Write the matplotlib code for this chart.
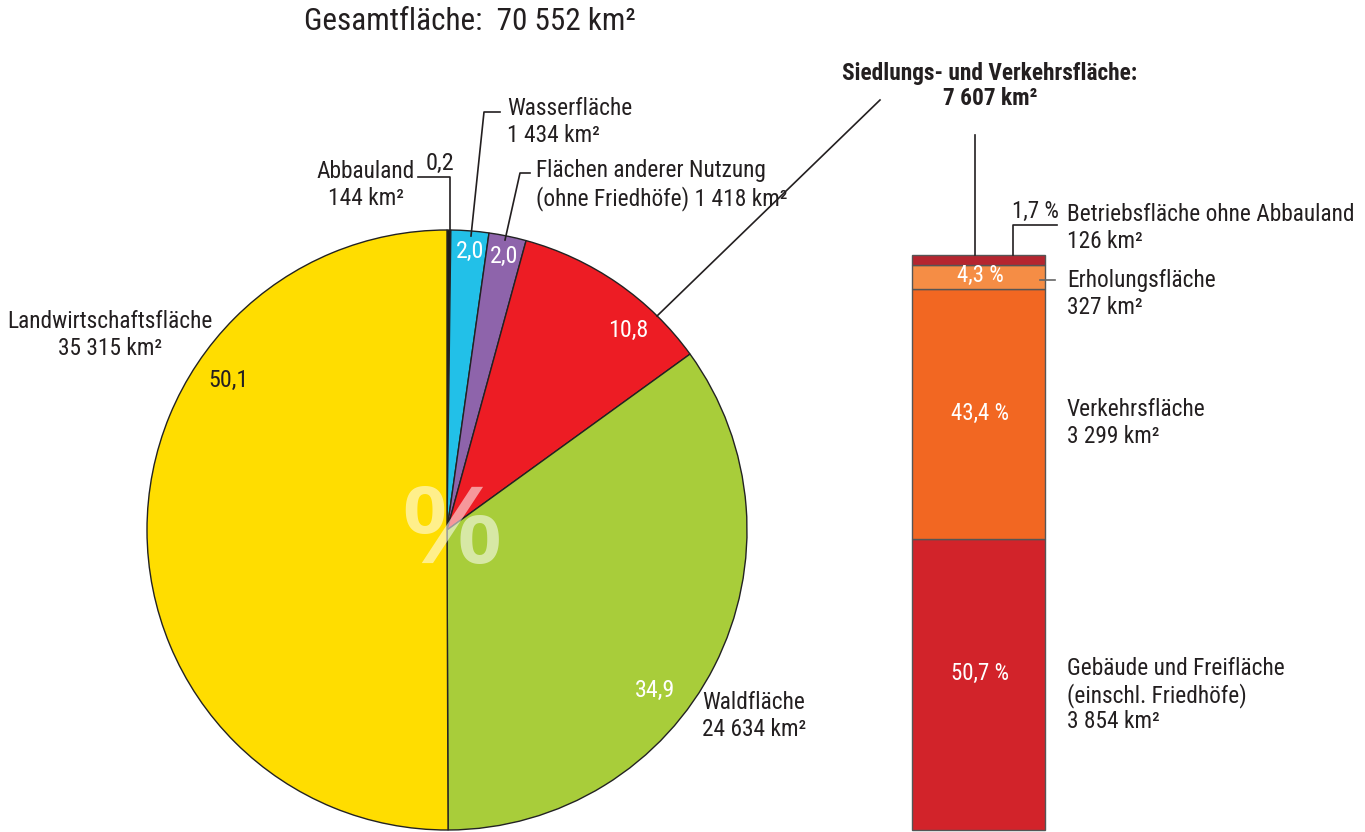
import matplotlib
matplotlib.use('Agg')
import matplotlib.pyplot as plt

plt.rcParams['font.family'] = ['Liberation Sans Narrow', 'Roboto Condensed', 'Arial Narrow',
                               'Liberation Sans', 'DejaVu Sans']

W, H = 1365, 832

# pie data (km²), clockwise from top
pie_labels = ['Abbauland', 'Wasserfläche', 'Flächen anderer Nutzung', 'Siedlungs- und Verkehrsfläche',
              'Waldfläche', 'Landwirtschaftsfläche']
pie_km2 = [144, 1434, 1418, 7607, 24634, 35315]
pie_colors = ['#1d1d1b', '#22c0e8', '#8e64ab', '#ed1c24', '#a8cd3a', '#ffdd00']

# stacked bar data (km²), bottom to top
bar_labels = ['Gebäude und Freifläche', 'Verkehrsfläche', 'Erholungsfläche', 'Betriebsfläche ohne Abbauland']
bar_km2 = [3854, 3299, 327, 126]
bar_colors = ['#d2232a', '#f26722', '#f58d45', '#b5252f']


def Y(p):
    return H - p


def pct(v, total):
    return f'{v / total * 100:.1f}'.replace('.', ',')


fig = plt.figure(figsize=(W / 100, H / 100), dpi=100)
ax = fig.add_axes([0, 0, 1, 1])

total = sum(pie_km2)
ax.pie(pie_km2, colors=pie_colors, startangle=90, counterclock=False,
       center=(447, Y(530)), radius=300,
       wedgeprops=dict(edgecolor='#222222', linewidth=1.0))

# stacked bar
bar_total = sum(bar_km2)
scale = 575 / bar_total
bottom = Y(830)
for v, c in zip(bar_km2, bar_colors):
    ax.bar(978.5, v * scale, bottom=bottom, width=133, color=c, edgecolor='#555555', linewidth=1.0)
    bottom += v * scale

ax.set_xlim(0, W)
ax.set_ylim(0, H)
ax.set_aspect('equal')
ax.axis('off')

fs = 16.8
ls = 1.2
tc = '#231f20'

# big percent sign
ax.text(452, Y(534), '%', fontsize=80, color='white', alpha=0.55, ha='center', va='center',
        fontweight='bold', family=['Liberation Sans', 'DejaVu Sans'])

# title
ax.text(470, Y(22), 'Gesamtfläche:  70 552 km²', fontsize=22.5, color=tc, ha='center', va='center')

# pie labels
ax.text(366, Y(185), f'{pie_labels[0]}\n{pie_km2[0]} km²', fontsize=fs, color=tc, ha='center', va='center', linespacing=ls)
ax.text(440, Y(163), pct(pie_km2[0], total), fontsize=17.5, color=tc, ha='center', va='center')
ax.text(507, Y(122), 'Wasserfläche\n1 434 km²', fontsize=fs, color=tc, ha='left', va='center', linespacing=ls)
ax.text(536, Y(185), 'Flächen anderer Nutzung\n(ohne Friedhöfe) 1 418 km²', fontsize=fs, color=tc,
        ha='left', va='center', linespacing=ls)
ax.text(110, Y(335), 'Landwirtschaftsfläche\n35 315 km²', fontsize=fs, color=tc, ha='center', va='center', linespacing=ls)
ax.text(754, Y(716), 'Waldfläche\n24 634 km²', fontsize=fs, color=tc, ha='center', va='center', linespacing=ls)
ax.text(990, Y(86), 'Siedlungs- und Verkehrsfläche:\n7 607 km²', fontsize=16.8, color=tc, ha='center', va='center',
        fontweight='bold', linespacing=1.15)

# values inside the pie
pfs = 17.3
ax.text(228, Y(380), pct(pie_km2[5], total), fontsize=pfs, color=tc, ha='center', va='center')
ax.text(655, Y(690), pct(pie_km2[4], total), fontsize=pfs, color='white', ha='center', va='center')
ax.text(628, Y(330), pct(pie_km2[3], total), fontsize=pfs, color='white', ha='center', va='center')
ax.text(470, Y(251), pct(pie_km2[1], total), fontsize=pfs, color='white', ha='center', va='center')
ax.text(504, Y(256), pct(pie_km2[2], total), fontsize=pfs, color='white', ha='center', va='center')

# leader lines
lw = 1.2
ax.plot([418, 450, 450], [Y(177), Y(177), Y(232)], color=tc, lw=lw)
ax.plot([500, 484, 471], [Y(112), Y(112), Y(236)], color=tc, lw=lw)
ax.plot([530, 520, 505], [Y(173), Y(173), Y(240)], color=tc, lw=lw)
ax.plot([657, 880], [Y(316), Y(100)], color=tc, lw=lw)
ax.plot([975, 975], [Y(135), Y(255)], color=tc, lw=lw)
ax.plot([1057, 1013, 1013], [Y(225), Y(225), Y(255)], color=tc, lw=lw)
ax.plot([1040, 1055], [Y(280), Y(280)], color='#666666', lw=lw)

# bar labels
bfs = 16.5
ax.text(980, Y(673), pct(bar_km2[0], bar_total) + ' %', fontsize=bfs, color='white', ha='center', va='center')
ax.text(980, Y(413), pct(bar_km2[1], bar_total) + ' %', fontsize=bfs, color='white', ha='center', va='center')
ax.text(980, Y(275), pct(bar_km2[2], bar_total) + ' %', fontsize=bfs, color='white', ha='center', va='center')
ax.text(1035, Y(211), pct(bar_km2[3], bar_total) + ' %', fontsize=bfs, color=tc, ha='center', va='center')

ax.text(1067, Y(228), 'Betriebsfläche ohne Abbauland\n126 km²', fontsize=fs, color=tc, ha='left', va='center', linespacing=ls)
ax.text(1067, Y(294), 'Erholungsfläche\n327 km²', fontsize=fs, color=tc, ha='left', va='center', linespacing=ls)
ax.text(1067, Y(423), 'Verkehrsfläche\n3 299 km²', fontsize=fs, color=tc, ha='left', va='center', linespacing=ls)
ax.text(1067, Y(695), 'Gebäude und Freifläche\n(einschl. Friedhöfe)\n3 854 km²', fontsize=fs, color=tc,
        ha='left', va='center', linespacing=1.12)

fig.savefig('out.png', dpi=100)
